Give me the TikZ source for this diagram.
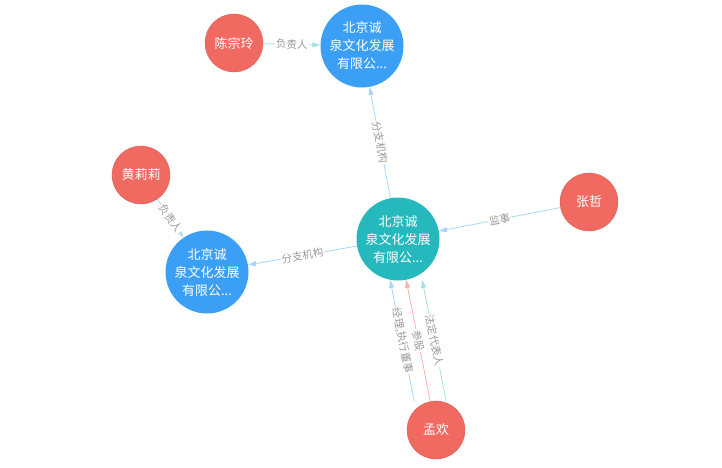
\documentclass[tikz,border=0pt]{standalone}
\usepackage{fontspec}
\setmainfont{Noto Sans CJK SC}
\usetikzlibrary{arrows.meta}
\definecolor{nodered}{HTML}{F06A62}
\definecolor{nodeblue}{HTML}{3A9FF5}
\definecolor{nodeteal}{HTML}{25B8BD}
\definecolor{edgeblue}{HTML}{A8D5F8}
\definecolor{edgeteal}{HTML}{A6E0E4}
\definecolor{edgered}{HTML}{F3B4AC}
\definecolor{labelgray}{HTML}{999999}
\begin{document}
\begin{tikzpicture}[x=1pt,y=-1pt,
  person/.style={circle,fill=nodered,draw=nodered!90!black,minimum size=58pt,inner sep=0pt,text=white,font=\fontsize{13}{18}\selectfont},
  company/.style={circle,minimum size=83pt,inner sep=0pt,text=white,align=center,font=\fontsize{13}{18}\selectfont},
  rel/.style={-{Triangle[length=8pt,width=5pt]},line width=0.8pt},
  lbl/.style={midway,sloped,fill=white,inner sep=1pt,text=labelgray,font=\fontsize{10.5}{12}\selectfont}]
  \useasboundingbox (0,0) rectangle (722,467);
  % companies
  \node[company,fill=nodeblue] (top) at (362,46) {北京诚\\泉文化发展\\有限公...};
  \node[company,fill=nodeblue] (left) at (207,272) {北京诚\\泉文化发展\\有限公...};
  \node[company,fill=nodeteal] (center) at (398,239) {北京诚\\泉文化发展\\有限公...};
  % persons
  \node[person] (chen) at (234,43) {陈宗玲};
  \node[person] (huang) at (141,175) {黄莉莉};
  \node[person] (zhang) at (589,202) {张哲};
  \node[person] (meng) at (436,430) {孟欢};
  % relations
  \draw[rel,edgeteal] (chen) -- node[lbl] {负责人} (top);
  \draw[rel,edgeblue] (center) -- node[lbl] {分支机构} (top);
  \draw[rel,edgeblue] (center) -- node[lbl] {分支机构} (left);
  \draw[rel,edgeteal] (huang) -- node[lbl] {负责人} (left);
  \draw[rel,edgeblue] (zhang) -- node[lbl] {监事} (center);
  \draw[rel,edgeblue,transform canvas={xshift=-16pt}] (meng) -- node[lbl] {经理,执行董事} (center);
  \draw[rel,edgered] (meng) -- node[lbl] {参股} (center);
  \draw[rel,edgeteal,transform canvas={xshift=16pt}] (meng) -- node[lbl] {法定代表人} (center);
\end{tikzpicture}
\end{document}
